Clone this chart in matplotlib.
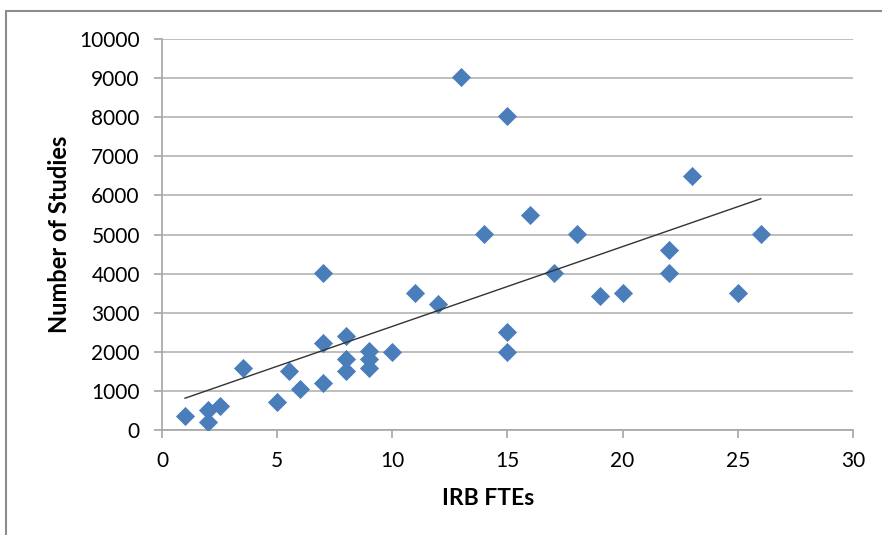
import matplotlib.pyplot as plt
import numpy as np
from matplotlib.patches import Rectangle

plt.rcParams['font.family'] = ['Lato', 'DejaVu Sans']

# IRB FTEs vs number of studies
ftes = np.array([1, 2, 2, 2.5, 3.5, 5, 5.5, 6, 7, 7, 7, 8, 8, 8, 9, 9, 9, 10,
                 11, 12, 13, 14, 15, 15, 15, 16, 17, 18, 19, 20, 22, 22, 23, 25, 26])
studies = np.array([360, 520, 220, 610, 1600, 720, 1510, 1060, 4020, 2220, 1200,
                    2400, 1820, 1510, 2020, 1820, 1590, 2000,
                    3500, 3220, 9020, 5020, 8020, 2500, 2000, 5500, 4020, 5020,
                    3440, 3500, 4600, 4020, 6500, 3500, 5020])

fig = plt.figure(figsize=(8.82, 5.35), dpi=100)
ax = fig.add_axes([0.1837, 0.196, 0.7833, 0.731])

ax.yaxis.grid(True, color='#b3b3b3', linewidth=1.2)
ax.set_axisbelow(True)
ax.scatter(ftes, studies, marker='D', s=95, color='#4a7ebb', zorder=3, linewidths=0)

# linear trendline
k, b = np.polyfit(ftes, studies, 1)
xs = np.array([ftes.min(), ftes.max()])
ax.plot(xs, k * xs + b, color='#333333', linewidth=1.0, zorder=4)

ax.set_xlim(0, 30)
ax.set_ylim(0, 10000)
ax.set_xticks(np.arange(0, 31, 5))
ax.set_yticks(np.arange(0, 10001, 1000))

for s in ['top', 'right']:
    ax.spines[s].set_visible(False)
for s in ['left', 'bottom']:
    ax.spines[s].set_color('#a6a6a6')
    ax.spines[s].set_linewidth(1.2)
ax.tick_params(colors='#a6a6a6', labelcolor='black', labelsize=15, length=6, width=1.2)
ax.tick_params(axis='x', pad=9)
ax.tick_params(axis='y', pad=10)

ax.set_xlabel('IRB FTEs', fontsize=16.5, fontweight='bold')
ax.xaxis.set_label_coords(0.472, -0.148)
ax.set_ylabel('Number of Studies', fontsize=17, fontweight='bold', labelpad=6)

# outer chart border
fig.patches.append(Rectangle((6 / 882, -0.1), 1.2, 1.1 - 11 / 535, transform=fig.transFigure,
                             fill=False, edgecolor='#8c8c8c', linewidth=1.5))

fig.savefig('out.png', dpi=100)
